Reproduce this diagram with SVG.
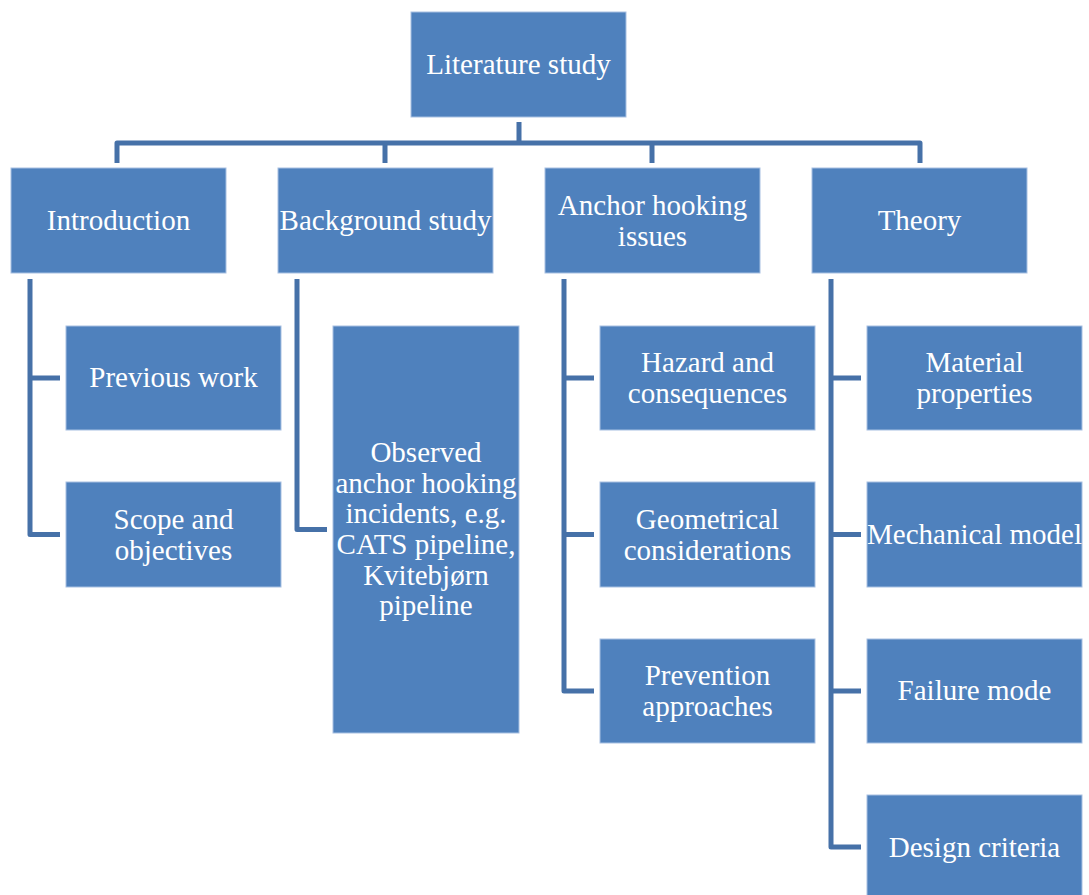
<svg xmlns="http://www.w3.org/2000/svg" width="1089" height="895" viewBox="0 0 1089 895">
<style>
.box{fill:#4F81BD;stroke:#a7c0e2;stroke-width:1}
.t{font-family:'Liberation Serif','Times New Roman',serif;font-size:29px;fill:#ffffff;text-anchor:middle}
.c{fill:none;stroke:#4671A8;stroke-width:5;stroke-linejoin:round}
</style>
<rect width="1089" height="895" fill="#ffffff"/>
<g id="connectors">
<path class="c" d="M519,122 V143 M117,163 V143 H920 V163 M385,143 V163 M652,143 V163"/>
<path class="c" d="M30,279 V534.5 H60 M30,378 H60"/>
<path class="c" d="M297,279 V529.5 H327"/>
<path class="c" d="M564,279 V691 H594 M564,378 H594 M564,534.5 H594"/>
<path class="c" d="M831,279 V847 H861 M831,378 H861 M831,534.5 H861 M831,691 H861"/>
</g>
<g font-family="Liberation Serif, serif">
<g id="literature-study"><rect class="box" x="411" y="12" width="215" height="105"/><text class="t" x="518.5" y="74">Literature study</text></g>
<g id="introduction"><rect class="box" x="11" y="168" width="215" height="105"/><text class="t" x="118.5" y="230">Introduction</text></g>
<g id="background-study"><rect class="box" x="278" y="168" width="215" height="105"/><text class="t" x="385.5" y="230">Background study</text></g>
<g id="anchor-hooking-issues"><rect class="box" x="545" y="168" width="215" height="105"/><text class="t" x="652.5" y="215">Anchor hooking</text><text class="t" x="652.5" y="246">issues</text></g>
<g id="theory"><rect class="box" x="812" y="168" width="215" height="105"/><text class="t" x="919.5" y="230">Theory</text></g>
<g id="previous-work"><rect class="box" x="66" y="326" width="215" height="104"/><text class="t" x="173.5" y="387">Previous work</text></g>
<g id="scope-and-objectives"><rect class="box" x="66" y="482" width="215" height="105"/><text class="t" x="173.5" y="529">Scope and</text><text class="t" x="173.5" y="560">objectives</text></g>
<g id="observed-incidents"><rect class="box" x="333" y="326" width="186" height="407"/>
<text class="t" x="426" y="462">Observed</text>
<text class="t" x="426" y="493">anchor hooking</text>
<text class="t" x="426" y="523">incidents, e.g.</text>
<text class="t" x="426" y="554">CATS pipeline,</text>
<text class="t" x="426" y="585">Kvitebjørn</text>
<text class="t" x="426" y="615">pipeline</text></g>
<g id="hazard-and-consequences"><rect class="box" x="600" y="326" width="215" height="104"/><text class="t" x="707.5" y="372">Hazard and</text><text class="t" x="707.5" y="403">consequences</text></g>
<g id="geometrical-considerations"><rect class="box" x="600" y="482" width="215" height="105"/><text class="t" x="707.5" y="529">Geometrical</text><text class="t" x="707.5" y="560">considerations</text></g>
<g id="prevention-approaches"><rect class="box" x="600" y="639" width="215" height="104"/><text class="t" x="707.5" y="685">Prevention</text><text class="t" x="707.5" y="716">approaches</text></g>
<g id="material-properties"><rect class="box" x="867" y="326" width="215" height="104"/><text class="t" x="974.5" y="372">Material</text><text class="t" x="974.5" y="403">properties</text></g>
<g id="mechanical-model"><rect class="box" x="867" y="482" width="215" height="105"/><text class="t" x="974.5" y="544">Mechanical model</text></g>
<g id="failure-mode"><rect class="box" x="867" y="639" width="215" height="104"/><text class="t" x="974.5" y="700">Failure mode</text></g>
<g id="design-criteria"><rect class="box" x="867" y="795" width="215" height="105"/><text class="t" x="974.5" y="857">Design criteria</text></g>
</g>
</svg>
